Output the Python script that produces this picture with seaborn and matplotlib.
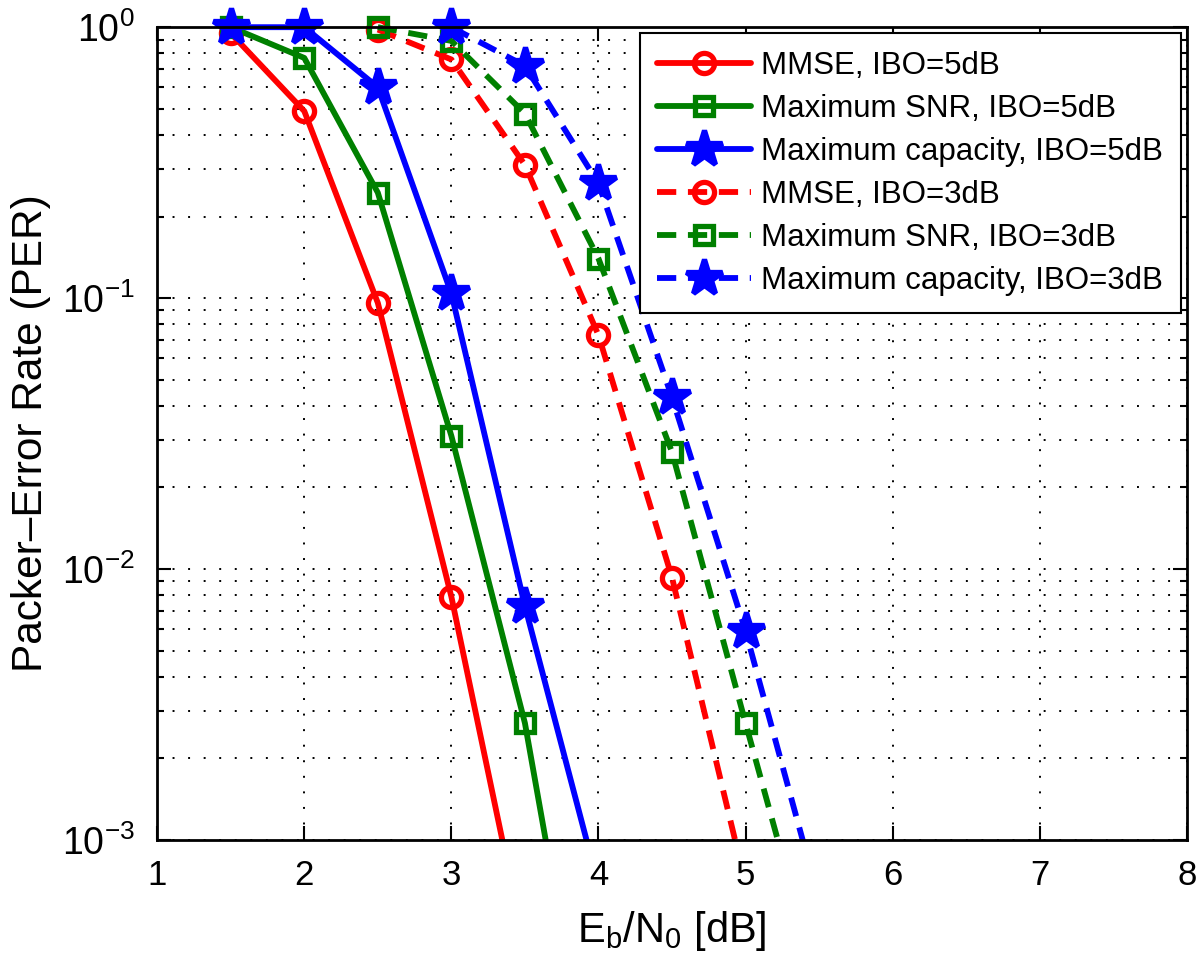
import matplotlib
matplotlib.use("Agg")
import matplotlib.pyplot as plt
import matplotlib.patches as mpatches
import seaborn as sns
import pandas as pd

# PER curves (x = Eb/N0 in dB)
mmse_ibo5_x = [1.5, 2.0, 2.5, 3.0, 3.5]
mmse_ibo5_y = [0.95, 0.49, 0.096, 0.0079, 4.0e-4]
maxsnr_ibo5_x = [1.5, 2.0, 2.5, 3.0, 3.5, 4.0]
maxsnr_ibo5_y = [1.0, 0.77, 0.245, 0.031, 0.0027, 8.0e-5]
maxcap_ibo5_x = [1.5, 2.0, 2.5, 3.0, 3.5, 4.0]
maxcap_ibo5_y = [1.0, 1.0, 0.60, 0.104, 0.0073, 6.8e-4]
mmse_ibo3_x = [2.5, 3.0, 3.5, 4.0, 4.5, 5.0]
mmse_ibo3_y = [0.98, 0.76, 0.31, 0.073, 0.0093, 6.9e-4]
maxsnr_ibo3_x = [2.5, 3.0, 3.5, 4.0, 4.5, 5.0, 5.5]
maxsnr_ibo3_y = [1.0, 0.89, 0.48, 0.14, 0.027, 0.0027, 2.8e-4]
maxcap_ibo3_x = [3.0, 3.5, 4.0, 4.5, 5.0, 5.5]
maxcap_ibo3_y = [1.0, 0.72, 0.265, 0.043, 0.0059, 6.0e-4]

labels = ['MMSE, IBO=5dB', 'Maximum SNR, IBO=5dB', 'Maximum capacity, IBO=5dB',
          'MMSE, IBO=3dB', 'Maximum SNR, IBO=3dB', 'Maximum capacity, IBO=3dB']
x_ticks = [1, 2, 3, 4, 5, 6, 7, 8]

sns.set_style("ticks")
plt.rcParams['font.family'] = ['Liberation Sans', 'DejaVu Sans']
plt.rcParams['mathtext.fontset'] = 'custom'
plt.rcParams['mathtext.rm'] = 'Liberation Sans'
plt.rcParams['mathtext.it'] = 'Liberation Sans:italic'
plt.rcParams['mathtext.bf'] = 'Liberation Sans:bold'
for key in ['text.color', 'axes.labelcolor', 'xtick.color', 'ytick.color']:
    plt.rcParams[key] = 'black'

fig = plt.figure(figsize=(12, 9.71), dpi=100)
ax = fig.add_axes([0.131, 0.135, 0.858, 0.837])

dash = (0, (3.3, 2.0))
series = [
    (mmse_ibo5_x, mmse_ibo5_y, '#ff0000', '-', 'o', 14.5, 'none'),
    (maxsnr_ibo5_x, maxsnr_ibo5_y, '#008000', '-', 's', 12.5, 'none'),
    (maxcap_ibo5_x, maxcap_ibo5_y, '#0000ff', '-', '*', 27, '#0000ff'),
    (mmse_ibo3_x, mmse_ibo3_y, '#ff0000', dash, 'o', 14.5, 'none'),
    (maxsnr_ibo3_x, maxsnr_ibo3_y, '#008000', dash, 's', 12.5, 'none'),
    (maxcap_ibo3_x, maxcap_ibo3_y, '#0000ff', dash, '*', 27, '#0000ff'),
]

for (xs, ys, col, ls, mk, ms, mfc), lab in zip(series, labels):
    df = pd.DataFrame({'x': xs, 'y': ys})
    sns.lineplot(data=df, x='x', y='y', ax=ax, color=col, linestyle=ls,
                 linewidth=4.2, marker=mk, markersize=ms, markerfacecolor=mfc,
                 markeredgecolor=col, markeredgewidth=3.8, label=lab,
                 sort=False, estimator=None)

ax.set_yscale('log')
ax.set_xlim(1, 8)
ax.set_ylim(1e-3, 1)
ax.set_xticks(x_ticks)
ax.set_xticklabels([str(t) for t in x_ticks])

# let markers on the top edge stick out like the original, clip the rest
clip = mpatches.Rectangle((0, 0), 1.02, 1.1, transform=ax.transAxes)
for ln in ax.get_lines():
    ln.set_clip_path(clip)

ax.grid(True, which='major', axis='both', color='black', linestyle=(0, (1, 7)), linewidth=1.4)
ax.grid(True, which='minor', axis='y', color='black', linestyle=(0, (1, 7)), linewidth=1.4)
ax.set_axisbelow(True)

ax.tick_params(which='both', direction='in', top=True, right=True, width=1.5)
ax.tick_params(which='major', length=10)
ax.tick_params(which='minor', length=5)
ax.tick_params(axis='x', labelsize=25, pad=14)
ax.tick_params(axis='y', labelsize=27, pad=16)
for sp in ax.spines.values():
    sp.set_linewidth(2)
    sp.set_color('black')

ax.set_xlabel(r'E$_\mathrm{b}$/N$_\mathrm{0}$ [dB]', fontsize=30, labelpad=12)
ax.set_ylabel('Packer\u2013Error Rate (PER)', fontsize=30.5, labelpad=8)

leg = ax.legend(loc='upper right', fontsize=22.5, frameon=True, fancybox=False,
                framealpha=1, edgecolor='black', handlelength=3.0,
                handletextpad=0.35, labelspacing=0.42, borderpad=0.55,
                borderaxespad=0.2)
leg.get_frame().set_linewidth(1.5)

fig.savefig('out.png', dpi=100)
